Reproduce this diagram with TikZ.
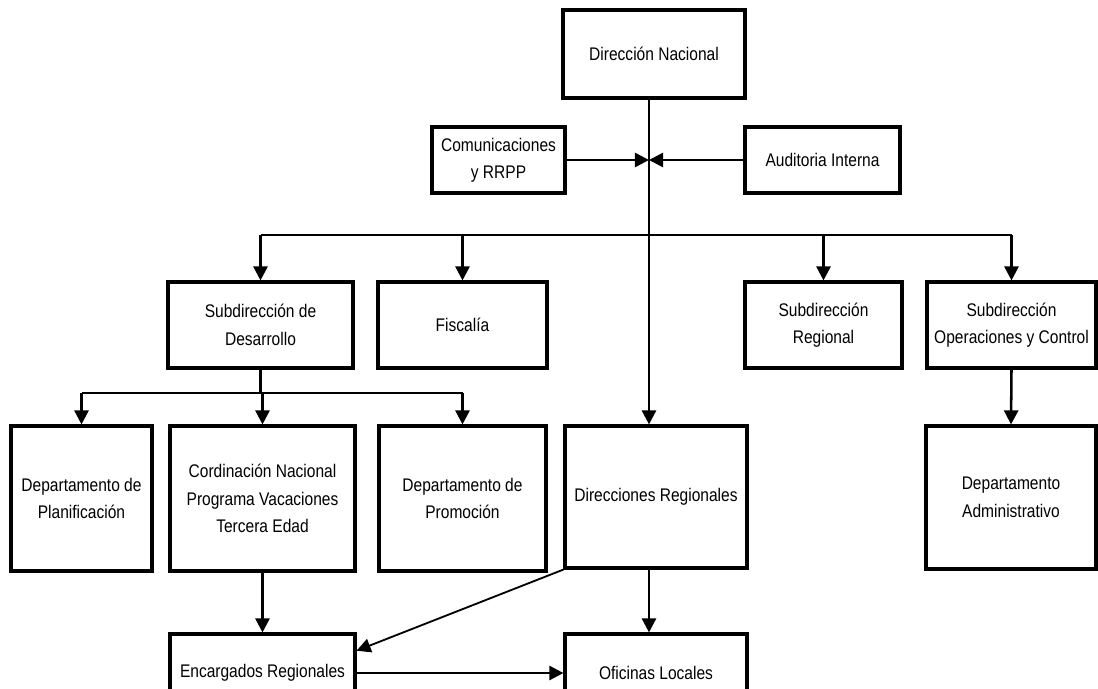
\documentclass[tikz,border=0pt]{standalone}
\usepackage{fontspec}
\setmainfont{Liberation Sans}[FakeStretch=0.85]
\usetikzlibrary{arrows.meta,calc}

\begin{document}
\begin{tikzpicture}[
  x=0.025cm, y=-0.025cm,
  unit/.style={draw, line width=2.2pt, align=center, inner sep=2pt, font=\fontsize{13}{19.5}\selectfont},
  arrow/.style={-{Triangle[length=10pt, width=10pt]}, line width=1.8pt},
  link/.style={line width=1.8pt},
]
\clip (0,0) rectangle (1098,689);

% === Top: direction + staff units ===
\node[unit, minimum width=4.55cm, minimum height=2.2cm] (dn) at (654,54) {Dirección Nacional};
\node[unit, minimum width=3.325cm, minimum height=1.65cm] (cr) at (498.5,160) {Comunicaciones\\y RRPP};
\node[unit, minimum width=3.875cm, minimum height=1.65cm] (ai) at (822.5,160) {Auditoria Interna};

\coordinate (hub) at (649,160);
\coordinate (bus) at (649,235);
\coordinate (bus2) at (260,393);

% === Second level: subdirections ===
\node[unit, minimum width=4.625cm, minimum height=2.15cm] (sd) at (260.5,325) {Subdirección de\\Desarrollo};
\node[unit, minimum width=4.225cm, minimum height=2.15cm] (fi) at (462.5,325) {Fiscalía};
\node[unit, minimum width=3.925cm, minimum height=2.15cm] (sr) at (823.5,325) {Subdirección\\Regional};
\node[unit, minimum width=4.225cm, minimum height=2.15cm] (so) at (1011.5,325) {Subdirección\\Operaciones y Control};

% === Third level: departments ===
\node[unit, minimum width=3.525cm, minimum height=3.625cm] (dp) at (81.5,498.5) {Departamento de\\Planificación};
\node[unit, minimum width=4.625cm, minimum height=3.625cm] (cn) at (262.5,498.5) {Cordinación Nacional\\Programa Vacaciones\\Tercera Edad};
\node[unit, minimum width=4.175cm, minimum height=3.625cm] (dpr) at (462.5,498.5) {Departamento de\\Promoción};
\node[unit, minimum width=4.55cm, minimum height=3.55cm] (dr) at (656,497) {Direcciones Regionales};
\node[unit, minimum width=4.25cm, minimum height=3.575cm] (da) at (1011,497.5) {Departamento\\Administrativo};

% === Bottom: regional offices ===
\node[unit, minimum width=4.625cm, minimum height=1.95cm] (er) at (262.5,673) {Encargados Regionales};
\node[unit, minimum width=4.55cm, minimum height=1.95cm] (ol) at (656,673) {Oficinas Locales};

% main spine
\draw[arrow] (hub |- dn.south) -- (hub |- dr.north);
\draw[arrow] (cr.east) -- (hub);
\draw[arrow] (ai.west) -- (hub);

% first bus
\draw[link] (bus -| sd.north) -- (bus -| so.north);
\foreach \n in {sd, fi, sr, so}
  \draw[arrow] (bus -| \n.north) -- (\n.north);

% second bus
\draw[link] (sd.south) -- (sd.south |- bus2);
\draw[link] (bus2 -| dp.north) -- (bus2 -| dpr.north);
\foreach \n in {dp, cn, dpr}
  \draw[arrow] (bus2 -| \n.north) -- (\n.north);

\draw[arrow] (so.south) -- (da.north);
\draw[arrow] (cn.south) -- (er.north);
\draw[arrow] (dr.south -| hub) -- (ol.north -| hub);
\draw[arrow, line width=1.3pt] (dr.south west) -- ([yshift=-13pt]er.north east);
\draw[arrow] (er.east) -- (ol.west);

\end{tikzpicture}
\end{document}
